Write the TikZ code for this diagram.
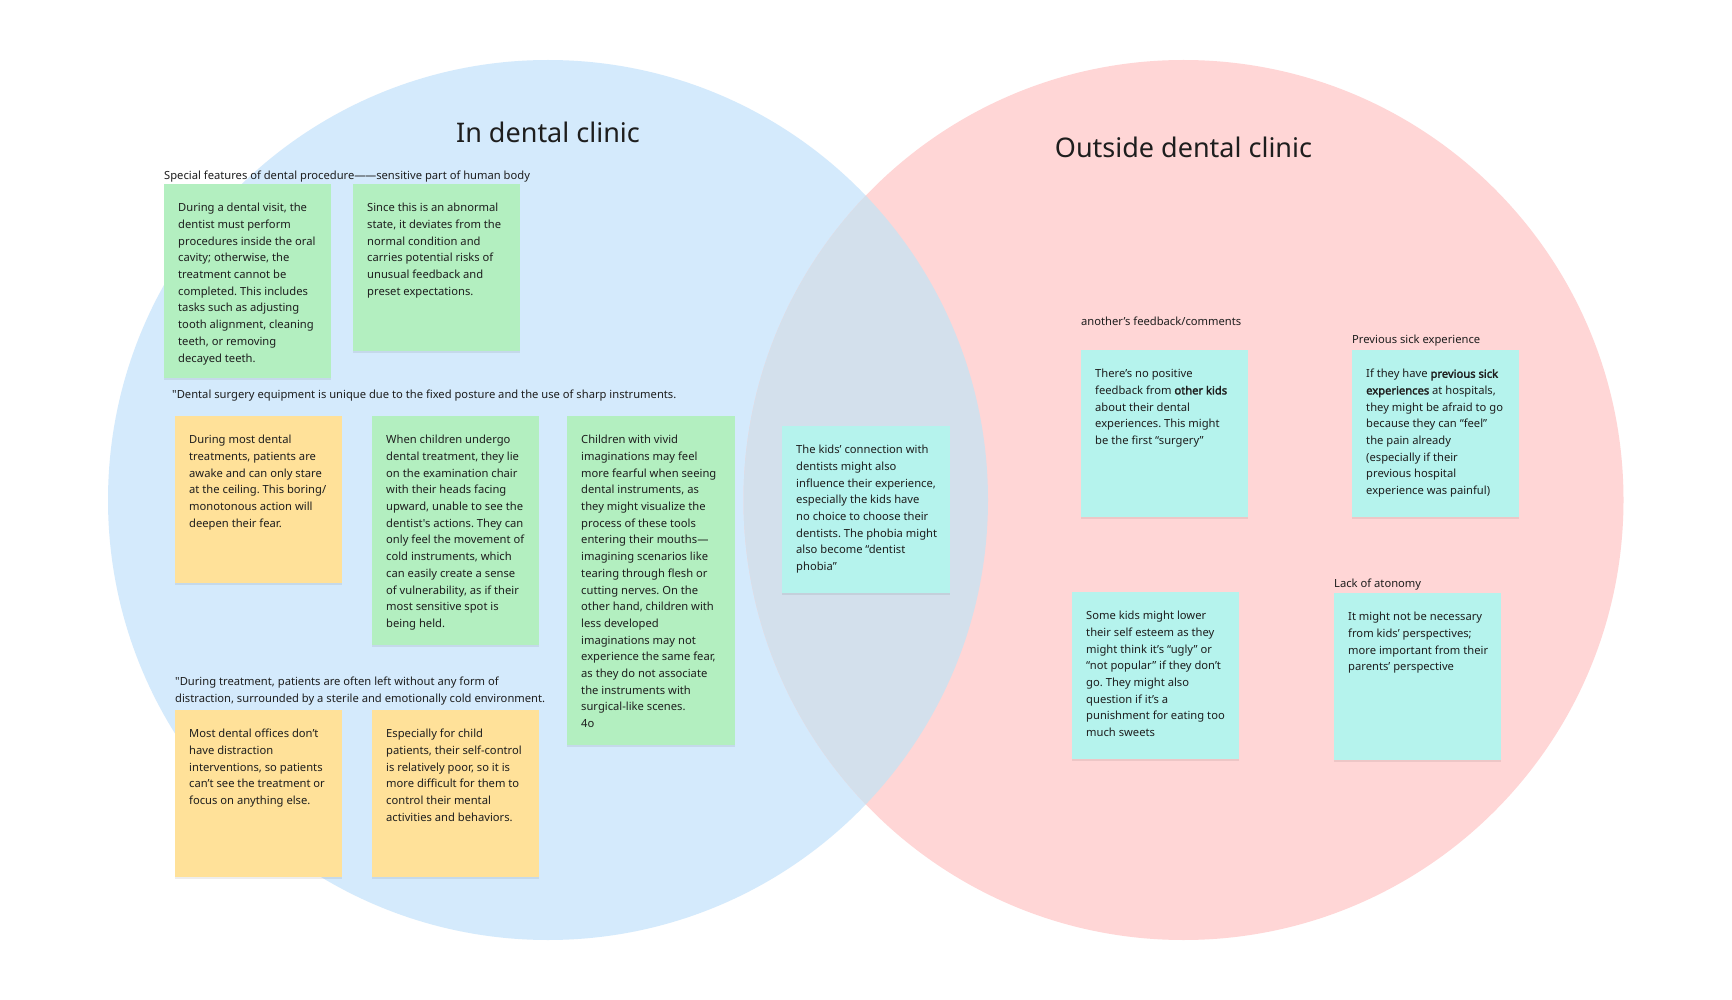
\documentclass[tikz,border=0pt]{standalone}
\usepackage{fontspec}
\setmainfont{Noto Sans}[Ligatures=TeXOff, BoldFont={Noto Sans}, BoldFeatures={FakeBold=2.2}]
\usetikzlibrary{shadows}
\frenchspacing
\definecolor{bluec}{HTML}{D4EAFC}
\definecolor{pinkc}{HTML}{FFD6D6}
\definecolor{interc}{HTML}{D3E0EC}
\definecolor{greenn}{HTML}{B3EFC0}
\definecolor{yellown}{HTML}{FFE199}
\definecolor{cyann}{HTML}{B5F3ED}
\definecolor{ink}{HTML}{1E1E1E}
\newcommand{\stickynote}[7]{%
  \node[notebox, fill=#2, minimum width=#5pt, minimum height=#6pt] (#1) at (#3,#4) {};
  \node[notetext] (#1-t) at ([xshift=14pt,yshift=-19pt]#1.north west) {#7};
}
\begin{document}
\begin{tikzpicture}[x=1pt,y=-1pt,
  notebox/.style={rectangle, draw=none, inner sep=0pt, anchor=north west,
    drop shadow={shadow xshift=0pt, shadow yshift=-2pt, opacity=0.07, fill=black}},
  notetext/.style={anchor=north west, inner sep=0pt, align=left, text=ink,
    font=\fontsize{11.2}{16.7}\selectfont\frenchspacing},
  lbl/.style={inner sep=0pt, text=ink, align=left, font=\fontsize{11.2}{16.7}\selectfont\frenchspacing},
  title/.style={inner sep=0pt, anchor=base, text=ink, font=\fontsize{27}{32}\selectfont}]
\useasboundingbox (0,0) rectangle (1732,1000);
\fill[white] (0,0) rectangle (1732,1000);
% circles
\fill[bluec] (548,500) circle (440);
\fill[pinkc] (1183.5,500) circle (440);
\begin{scope}
  \clip (548,500) circle (440);
  \fill[interc] (1183.5,500) circle (440);
\end{scope}
% titles
\node[title] (t1) at (548,143) {In dental clinic};
\node[title] (t2) at (1183.5,158) {Outside dental clinic};
% labels
\node[lbl, anchor=base west] (l1) at (164,180) {Special features of dental procedure—\kern-0.5pt—sensitive part of human body};
\node[lbl, anchor=base west] (l2) at (172,398) {"Dental surgery equipment is unique due to the fixed posture and the use of sharp instruments.};
\node[lbl, anchor=north west] (l3) at (175,677) {"During treatment, patients are often left without any form of\\distraction, surrounded by a sterile and emotionally cold environment.};
\node[lbl, anchor=base west] (l4) at (1081,326) {another’s feedback/comments};
\node[lbl, anchor=base west] (l5) at (1352,343) {Previous sick experience};
\node[lbl, anchor=base west] (l6) at (1334,587) {Lack of atonomy};
% notes
\stickynote{n1}{greenn}{164}{184}{167}{194}{During a dental visit, the\\dentist must perform\\procedures inside the oral\\cavity; otherwise, the\\treatment cannot be\\completed. This includes\\tasks such as adjusting\\tooth alignment, cleaning\\teeth, or removing\\decayed teeth.}
\stickynote{n2}{greenn}{353}{184}{167}{167}{Since this is an abnormal\\state, it deviates from the\\normal condition and\\carries potential risks of\\unusual feedback and\\preset expectations.}
\stickynote{n3}{yellown}{175}{416}{167}{167}{During most dental\\treatments, patients are\\awake and can only stare\\at the ceiling. This boring/\\monotonous action will\\deepen their fear.}
\stickynote{n4}{greenn}{372}{416}{167}{229}{When children undergo\\dental treatment, they lie\\on the examination chair\\with their heads facing\\upward, unable to see the\\dentist's actions. They can\\only feel the movement of\\cold instruments, which\\can easily create a sense\\of vulnerability, as if their\\most sensitive spot is\\being held.}
\stickynote{n5}{greenn}{567}{416}{168}{329}{Children with vivid\\imaginations may feel\\more fearful when seeing\\dental instruments, as\\they might visualize the\\process of these tools\\entering their mouths—\\imagining scenarios like\\tearing through flesh or\\cutting nerves. On the\\other hand, children with\\less developed\\imaginations may not\\experience the same fear,\\as they do not associate\\the instruments with\\surgical-like scenes.\\4o}
\stickynote{n6}{yellown}{175}{710}{167}{167}{Most dental offices don’t\\have distraction\\interventions, so patients\\can’t see the treatment or\\focus on anything else.}
\stickynote{n7}{yellown}{372}{710}{167}{167}{Especially for child\\patients, their self-control\\is relatively poor, so it is\\more difficult for them to\\control their mental\\activities and behaviors.}
\stickynote{n8}{cyann}{782}{426}{168}{167}{The kids’ connection with\\dentists might also\\influence their experience,\\especially the kids have\\no choice to choose their\\dentists. The phobia might\\also become “dentist\\phobia”}
\stickynote{n9}{cyann}{1081}{350}{167}{167}{There’s no positive\\feedback from \textbf{other kids}\\about their dental\\experiences. This might\\be the first “surgery”}
\stickynote{n10}{cyann}{1352}{350}{167}{167}{If they have \textbf{previous sick}\\\textbf{experiences} at hospitals,\\they might be afraid to go\\because they can “feel”\\the pain already\\(especially if their\\previous hospital\\experience was painful)}
\stickynote{n11}{cyann}{1072}{592}{167}{167}{Some kids might lower\\their self esteem as they\\might think it’s “ugly” or\\“not popular” if they don’t\\go. They might also\\question if it’s a\\punishment for eating too\\much sweets}
\stickynote{n12}{cyann}{1334}{593}{167}{167}{It might not be necessary\\from kids’ perspectives;\\more important from their\\parents’ perspective}
\end{tikzpicture}
\end{document}
